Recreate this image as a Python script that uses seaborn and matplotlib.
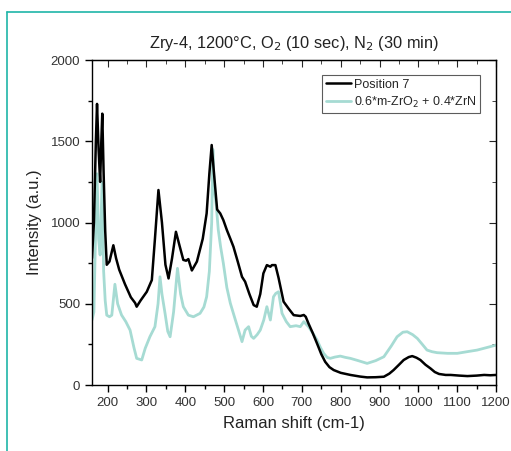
import numpy as np
import pandas as pd
import matplotlib
matplotlib.use('Agg')
import matplotlib.pyplot as plt
from matplotlib.lines import Line2D
from matplotlib.ticker import MultipleLocator
import seaborn as sns

# Position 7 spectrum (black)
pos7_x = [160, 165, 170, 173, 177, 181, 184, 186.5, 190, 194, 198, 205, 215, 222, 230, 245, 260, 271, 275, 285,
          301, 314, 322, 331, 340, 349, 357, 366, 376, 385, 395, 402, 408, 417, 430, 445, 455, 462, 468, 474,
          482, 490, 498, 507, 516, 524, 535, 546, 554, 565, 576, 584, 593, 601, 610, 619, 623, 632, 640, 653,
          666, 679, 696, 705, 710, 717, 728, 739, 750, 760, 771, 782, 800, 825, 850, 868, 890, 911, 925, 936,
          950, 962, 975, 984, 995, 1005, 1018, 1031, 1042, 1053, 1070, 1083, 1105, 1126, 1150, 1169, 1185, 1200]
pos7_y = [780, 1000, 1500, 1730, 1450, 1250, 1500, 1670, 1300, 950, 740, 760, 860, 780, 710, 620, 540, 505, 482, 520,
          574, 646, 900, 1200, 1000, 740, 656, 780, 943, 860, 770, 765, 775, 705, 760, 900, 1056, 1300, 1477, 1300,
          1080, 1056, 1015, 954, 900, 851, 760, 666, 636, 560, 492, 482, 560, 687, 738, 728, 738, 738, 660, 513,
          470, 430, 425, 431, 420, 379, 320, 256, 190, 143, 110, 92, 75, 62, 52, 47, 48, 51, 70, 92,
          125, 154, 172, 178, 168, 154, 125, 102, 80, 68, 62, 62, 58, 55, 58, 62, 60, 62]

# 0.6*m-ZrO2 + 0.4*ZrN reference (teal)
ref_x = [160, 165, 168, 173, 177, 181, 186, 190, 194, 198, 205, 211, 219, 226, 236, 247, 258, 268, 275, 288,
         297, 309, 322, 330, 335, 340, 348, 355, 361, 370, 380, 388, 395, 408, 421, 438, 448, 455, 462, 468,
         471, 475, 480, 485, 491, 498, 507, 516, 529, 538, 546, 554, 563, 570, 576, 585, 593, 602, 610, 619,
         627, 633, 640, 649, 660, 670, 685, 696, 705, 717, 728, 739, 748, 756, 765, 773, 785, 799, 812, 825,
         845, 868, 890, 911, 930, 945, 960, 971, 985, 997, 1010, 1022, 1035, 1048, 1075, 1100, 1125, 1151, 1175, 1200]
ref_y = [400, 450, 800, 1300, 900, 800, 1250, 700, 520, 430, 420, 430, 620, 500, 431, 390, 338, 230, 164, 154,
         226, 297, 359, 500, 666, 560, 441, 330, 297, 450, 718, 560, 482, 430, 420, 441, 480, 543, 700, 1000,
         1450, 1200, 1100, 954, 850, 749, 600, 503, 400, 330, 267, 338, 359, 300, 287, 310, 338, 400, 482, 400,
         543, 564, 574, 441, 390, 359, 365, 359, 390, 359, 320, 277, 230, 195, 170, 164, 172, 178, 170, 164,
         150, 133, 150, 174, 240, 297, 325, 328, 310, 287, 250, 215, 205, 199, 195, 195, 205, 215, 230, 246]

sns.set_style("ticks")
plt.rcParams['font.family'] = ['Liberation Sans', 'DejaVu Sans']

fig = plt.figure(figsize=(5.11, 4.51), dpi=100)
ax = fig.add_axes([0.180, 0.1463, 0.791, 0.7206])

sns.lineplot(x=ref_x, y=ref_y, color='#a6dbd3', linewidth=2.0, ax=ax, label='0.6*m-ZrO$_2$ + 0.4*ZrN')
sns.lineplot(x=pos7_x, y=pos7_y, color='black', linewidth=1.8, ax=ax, label='Position 7')

ax.set_xlim(160, 1200)
ax.set_ylim(0, 2000)
ax.xaxis.set_minor_locator(MultipleLocator(50))
ax.yaxis.set_major_locator(MultipleLocator(500))
ax.yaxis.set_minor_locator(MultipleLocator(250))
ax.set_xticks(np.arange(200, 1201, 100))
ax.tick_params(which='both', direction='out', labelsize=9.5, colors='black')
ax.tick_params(axis='both', labelcolor='#333333')
ax.tick_params(which='major', length=5, width=1)
ax.tick_params(which='minor', length=3, width=1)

# inward mirrored ticks on top/right
ax_t = ax.secondary_xaxis('top')
ax_t.xaxis.set_major_locator(MultipleLocator(100))
ax_t.xaxis.set_minor_locator(MultipleLocator(50))
ax_t.tick_params(which='both', direction='in', labeltop=False)
ax_t.tick_params(which='major', length=5)
ax_t.tick_params(which='minor', length=3)
ax_r = ax.secondary_yaxis('right')
ax_r.yaxis.set_major_locator(MultipleLocator(500))
ax_r.yaxis.set_minor_locator(MultipleLocator(250))
ax_r.tick_params(which='both', direction='in', labelright=False)
ax_r.tick_params(which='major', length=5)
ax_r.tick_params(which='minor', length=3)

for s in ax.spines.values():
    s.set_linewidth(1.0)
    s.set_color('black')

ax.set_title('Zry-4, 1200°C, O$_2$ (10 sec), N$_2$ (30 min)', fontsize=11.8, pad=9, color='#222222')
ax.set_xlabel('Raman shift (cm-1)', fontsize=12, color='#222222', labelpad=5)
ax.set_ylabel('Intensity (a.u.)', fontsize=12, color='#222222', labelpad=6)

handles, labels = ax.get_legend_handles_labels()
leg = ax.legend(handles[::-1], labels[::-1], loc='upper right', fontsize=9, frameon=True,
                fancybox=False, handlelength=2.0, borderpad=0.3, labelspacing=0.3,
                handletextpad=0.2, borderaxespad=0, bbox_to_anchor=(0.96, 0.954))
leg.get_frame().set_edgecolor('#333333')
leg.get_frame().set_linewidth(0.8)

# teal frame around the figure
fx = 7 / 511
fy = 1 - 12 / 451
fig.add_artist(Line2D([fx, fx], [0, fy], transform=fig.transFigure, color='#1fb5a8', linewidth=1.2))
fig.add_artist(Line2D([fx, 1], [fy, fy], transform=fig.transFigure, color='#1fb5a8', linewidth=1.2))

fig.savefig('out.png', dpi=100)
